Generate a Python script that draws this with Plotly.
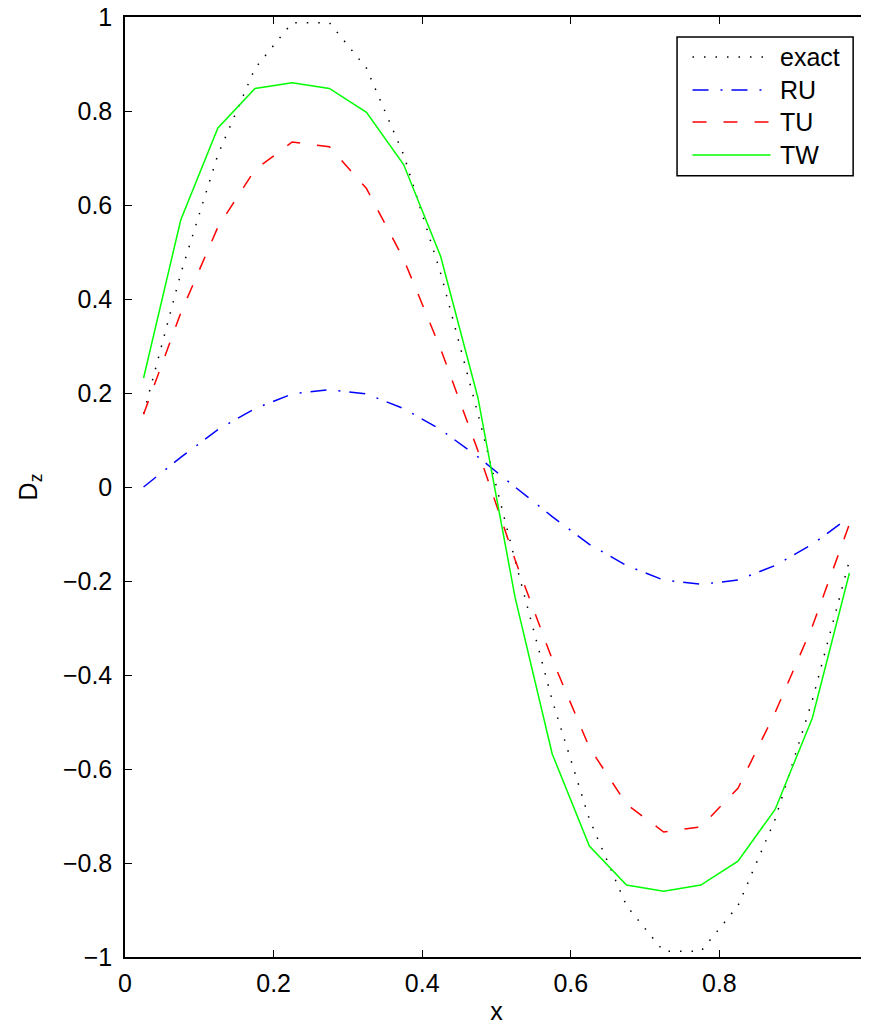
import plotly.graph_objs as go

# x positions (cell midpoints)
x = [0.025, 0.075, 0.125, 0.175, 0.225, 0.275, 0.325, 0.375, 0.425, 0.475,
     0.525, 0.575, 0.625, 0.675, 0.725, 0.775, 0.825, 0.875, 0.925, 0.975]

exact = [0.156, 0.454, 0.707, 0.891, 0.988, 0.988, 0.891, 0.707, 0.454, 0.156,
         -0.156, -0.454, -0.707, -0.891, -0.988, -0.988, -0.891, -0.707, -0.454, -0.156]
ru = [0.0, 0.063, 0.122, 0.167, 0.198, 0.207, 0.198, 0.167, 0.122, 0.064,
      0.0, -0.063, -0.122, -0.167, -0.198, -0.207, -0.198, -0.167, -0.122, -0.064]
tu = [0.155, 0.37, 0.553, 0.675, 0.734, 0.724, 0.635, 0.485, 0.293, 0.077,
      -0.155, -0.367, -0.554, -0.675, -0.734, -0.723, -0.641, -0.48, -0.297, -0.079]
tw = [0.232, 0.568, 0.764, 0.848, 0.86, 0.848, 0.797, 0.686, 0.49, 0.19,
      -0.235, -0.568, -0.764, -0.847, -0.86, -0.847, -0.796, -0.686, -0.492, -0.183]

names = ['exact', 'RU', 'TU', 'TW']
series = [exact, ru, tu, tw]
styles = [dict(color='black', width=1.5, dash='1.5px,10px'),
          dict(color='#0000ff', width=1.5, dash='16px,12px,2px,9px'),
          dict(color='#ff0000', width=1.5, dash='14px,17px'),
          dict(color='#00ff00', width=1.5)]

font = 'Liberation Sans, Arial, sans-serif'

fig = go.Figure()
for name, y, st in zip(names, series, styles):
    fig.add_trace(go.Scatter(x=x, y=y, mode='lines', name=name, line=st, showlegend=False))

# legend drawn by hand, MATLAB style (long line samples)
fig.add_shape(type='rect', xref='paper', yref='paper', x0=0.743, x1=0.980, y0=0.831, y1=0.9787,
              line=dict(color='black', width=1.5), fillcolor='white', layer='above')
row_y = [0.9574, 0.9223, 0.8883, 0.8532]
for name, st, ry in zip(names, styles, row_y):
    fig.add_shape(type='line', xref='paper', yref='paper', x0=0.7638, x1=0.8688, y0=ry, y1=ry,
                  line=st, layer='above')
    fig.add_annotation(text=name, xref='paper', yref='paper', x=0.8789, y=ry,
                       xanchor='left', yanchor='middle', showarrow=False,
                       font=dict(family=font, size=25, color='black'))

axis = dict(showgrid=False, zeroline=False, showline=True, linecolor='black', linewidth=1.5,
            mirror='ticks', ticks='inside', ticklen=7, tickwidth=1.2, tickcolor='black',
            tickfont=dict(family=font, size=25, color='black'), dtick=0.2, automargin=False,
            ticklabeloverflow='allow')

# page body has an 8px margin, so the figure is offset by 8px
fig.update_layout(
    width=861, height=1017,
    margin=dict(l=117, r=1, t=9, b=68),
    paper_bgcolor='white', plot_bgcolor='white',
    font=dict(family=font, size=25, color='black'),
    xaxis=dict(axis, range=[0, 1], ticklabelstandoff=3,
               title=dict(text='x', standoff=7, font=dict(family=font, size=25))),
    yaxis=dict(axis, range=[-1, 1], ticklabelstandoff=6,
               title=dict(text='D<sub>z</sub>', standoff=18, font=dict(family=font, size=25))),
    showlegend=False,
)

fig.write_html("out.html")
